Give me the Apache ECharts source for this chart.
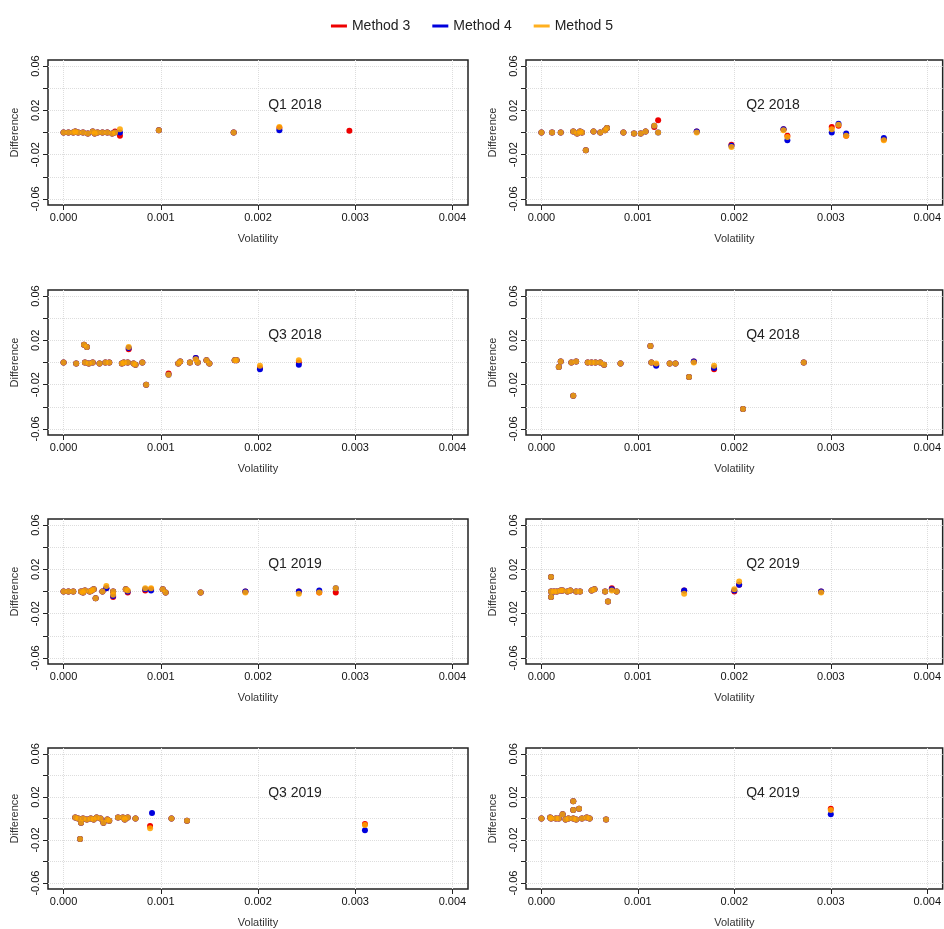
<!DOCTYPE html>
<html>
<head>
<meta charset="utf-8">
<script src="https://cdn.jsdelivr.net/npm/echarts@6/dist/echarts.min.js"></script>
<style>html,body{margin:0;padding:0;background:#fff}#main{width:944px;height:929px}</style>
</head>
<body>
<div id="main"></div>
<script>
// each row: [volatility, method 3, method 4, method 5]
var q1_2018 = [[0,0,0,0],[0.00005,0,0,0],[0.0001,0,0,0],[0.00012,0.001,0.001,0.001],[0.00015,0,0,0],[0.0002,0,0,0],
  [0.00025,-0.001,-0.001,-0.001],[0.0003,0.001,0.001,0.001],[0.00032,-0.001,-0.001,-0.001],[0.00035,0,0,0],[0.0004,0,0,0],
  [0.00045,0,0,0],[0.0005,-0.001,-0.001,-0.001],[0.00053,0.001,0,0],[0.00058,-0.003,0,0.003],[0.00098,0.002,0.002,0.002],
  [0.00175,0,0,0],[0.00222,0.004,0.002,0.005],[0.00294,0.0015,null,null]];
var q2_2018 = [[0,0,0,0],[0.00011,0,0,0],[0.0002,0,0,0],[0.00033,0.001,0.001,0.001],[0.00037,-0.001,-0.001,-0.001],
  [0.0004,0.001,0.001,0.001],[0.00042,0,0,0],[0.00046,-0.016,-0.016,-0.016],[0.00054,0.001,0.001,0.001],[0.00061,0,0,0],
  [0.00066,0.002,0.002,0.002],[0.00068,0.004,0.004,0.004],[0.00085,0,0,0],[0.00096,-0.001,-0.001,-0.001],
  [0.00103,-0.001,-0.001,-0.001],[0.00108,0.001,0.001,0.001],[0.00117,0.005,0.006,0.006],[0.00121,0.011,0,0],
  [0.00161,0.001,0.001,0],[0.00197,-0.011,-0.012,-0.013],[0.00251,0.003,0.003,0.002],[0.00255,-0.003,-0.007,-0.004],
  [0.00301,0.005,0,0.003],[0.00308,0.006,0.008,0.007],[0.00316,-0.003,-0.001,-0.003],[0.00355,-0.006,-0.005,-0.007]];
var q3_2018 = [[0,0,0,0],[0.00013,-0.001,-0.001,-0.001],[0.00021,0.016,0.016,0.016],[0.00024,0.014,0.014,0.014],
  [0.00022,0,0,0],[0.00026,-0.001,-0.001,-0.001],[0.0003,0,0,0],[0.00037,-0.001,-0.001,-0.001],[0.00043,0,0,0],
  [0.00047,0,0,0],[0.0006,-0.001,-0.001,-0.001],[0.00062,0,0,0],[0.00066,0,0,0],[0.00067,0.012,0.013,0.014],
  [0.00072,-0.001,-0.001,-0.001],[0.00074,-0.002,-0.002,-0.002],[0.00081,0,0,0],[0.00085,-0.02,-0.02,-0.02],
  [0.00108,-0.01,-0.011,-0.011],[0.00118,-0.001,-0.001,-0.001],[0.0012,0.001,0.001,0.001],[0.0013,0,0,0],
  [0.00136,0.004,0.004,0.003],[0.00138,0,0,0],[0.00147,0.002,0.002,0.002],[0.0015,-0.001,-0.001,-0.001],
  [0.00176,0.002,0.002,0.002],[0.00178,0.002,0.002,0.002],[0.00202,-0.005,-0.006,-0.003],[0.00242,0,-0.002,0.002]];
var q4_2018 = [[0.00018,-0.004,-0.004,-0.004],[0.0002,0.001,0.001,0.001],[0.00031,0,0,0],[0.00036,0.001,0.001,0.001],
  [0.00033,-0.03,-0.03,-0.03],[0.00048,0,0,0],[0.00052,0,0,0],[0.00056,0,0,0],[0.00061,0,0,0],[0.00065,-0.002,-0.002,-0.002],
  [0.00082,-0.001,-0.001,-0.001],[0.00113,0.015,0.015,0.015],[0.00114,0,0,0],[0.00119,-0.002,-0.003,-0.001],
  [0.00133,-0.001,-0.001,-0.001],[0.00139,-0.001,-0.001,-0.001],[0.00153,-0.013,-0.013,-0.013],[0.00158,0.001,0.001,0],
  [0.00179,-0.006,-0.005,-0.003],[0.00209,-0.042,-0.042,-0.042],[0.00272,0,0,0]];
var q1_2019 = [[0,0,0,0],[0.00005,0,0,0],[0.0001,0,0,0],[0.00018,0,0,0],[0.0002,-0.001,-0.001,-0.001],[0.00022,0.001,0.001,0.001],
  [0.00027,0,0,0],[0.00029,0.001,0.001,0.001],[0.00031,0.002,0.002,0.002],[0.00033,-0.006,-0.006,-0.006],[0.0004,0,0,0],
  [0.00044,0.003,0.003,0.005],[0.00051,-0.005,-0.004,-0.003],[0.00051,0,0,0],[0.00064,0.002,0.002,0.002],
  [0.00066,-0.001,0,0.001],[0.00084,0.001,0.002,0.003],[0.0009,0.002,0.001,0.003],[0.00102,0.002,0.002,0.002],
  [0.00105,-0.001,-0.001,-0.001],[0.00141,-0.001,-0.001,-0.001],[0.00187,0,0,-0.001],[0.00242,0,0,-0.002],
  [0.00263,-0.001,0.001,-0.001],[0.0028,-0.001,0.003,0.003]];
var q2_2019 = [[0.0001,0.013,0.013,0.013],[0.0001,-0.005,-0.005,-0.005],[0.0001,0,0,0],[0.00013,0,0,0],[0.00016,0,0,0],
  [0.0002,0.001,0.001,0.001],[0.00022,0.001,0.001,0.001],[0.00027,0,0,0],[0.0003,0.001,0.001,0.001],[0.00036,0,0,0],
  [0.0004,0,0,0],[0.00052,0.001,0.001,0.001],[0.00055,0.002,0.002,0.002],[0.00066,0,0,0],[0.00069,-0.009,-0.009,-0.009],
  [0.00073,0.003,0.002,0.001],[0.00078,0,0,0],[0.00148,0.001,0.001,-0.002],[0.002,0,0.001,0.002],
  [0.00205,0.006,0.006,0.009],[0.0029,0,0,-0.001]];
var q3_2019 = [[0.00012,0.001,0.001,0.001],[0.00015,0,0,0],[0.00017,-0.019,-0.019,-0.019],[0.00018,-0.004,-0.004,-0.004],
  [0.0002,0,0,0],[0.00024,-0.001,-0.001,-0.001],[0.00028,0,0,0],[0.00031,-0.001,-0.001,-0.001],[0.00034,0.001,0.001,0.001],
  [0.00038,0,0,0],[0.00041,-0.004,-0.004,-0.004],[0.00045,-0.001,-0.001,-0.001],[0.00047,-0.002,-0.002,-0.002],
  [0.00056,0.001,0.001,0.001],[0.00061,0.001,0.001,0.001],[0.00063,-0.001,-0.001,-0.001],[0.00066,0.001,0.001,0.001],
  [0.00074,0,0,0],[0.00089,-0.007,null,-0.009],[0.00091,null,0.005,null],[0.00111,0,0,0],[0.00127,-0.002,-0.002,-0.002],
  [0.0031,-0.005,-0.011,-0.006]];
var q4_2019 = [[0,0,0,0],[0.0001,0,0,0],[0.00009,0.001,0.001,0.001],[0.00015,0,0,0],[0.00018,0,0,0],[0.00022,0.004,0.004,0.004],
  [0.00025,-0.001,-0.001,-0.001],[0.00028,0,0,0],[0.00033,0.016,0.016,0.016],[0.00033,0.008,0.008,0.008],[0.00033,0,0,0],
  [0.00036,-0.001,-0.001,-0.001],[0.00039,0.009,0.009,0.009],[0.00042,0,0,0],[0.00047,0.001,0.001,0.001],[0.0005,0,0,0],
  [0.00067,-0.001,-0.001,-0.001],[0.003,0.009,0.004,0.008]];

var panels = [q1_2018, q2_2018, q3_2018, q4_2018, q1_2019, q2_2019, q3_2019, q4_2019];
var titles = ['Q1 2018', 'Q2 2018', 'Q3 2018', 'Q4 2018', 'Q1 2019', 'Q2 2019', 'Q3 2019', 'Q4 2019'];
var methods = ['Method 3', 'Method 4', 'Method 5'];
var colors = ['#ee0000', '#0000dd', '#ffa500'];
var xTicks = [0, 0.001, 0.002, 0.003, 0.004];
var yTicks = [-0.06, -0.04, -0.02, 0, 0.02, 0.04, 0.06];
var yLabels = [-0.06, -0.02, 0.02, 0.06];

var myChart = echarts.init(document.getElementById('main'));
var tops = [60, 290, 519, 748];
var grids = [], xAxes = [], yAxes = [], series = [], title = [];

panels.forEach(function (rows, i) {
    var col = i % 2, row = Math.floor(i / 2);
    var left = col === 0 ? 48 : 526;
    grids.push({left: left, top: tops[row], width: 420, height: 145, show: true,
        borderColor: '#222', borderWidth: 1.5, backgroundColor: 'transparent'});
    title.push({text: titles[i], left: left + 242, top: tops[row] + 33, textAlign: 'center',
        textStyle: {fontSize: 14, fontWeight: 'normal', color: '#222', fontFamily: 'Liberation Sans'}});
    xAxes.push({type: 'value', gridIndex: i, min: -0.00016, max: 0.00416,
        name: 'Volatility', nameLocation: 'middle', nameGap: 28,
        nameTextStyle: {fontSize: 11, color: '#333'},
        axisLine: {show: false, onZero: false},
        axisTick: {show: true, customValues: xTicks, length: 5, lineStyle: {color: '#222'}},
        axisLabel: {customValues: xTicks, fontSize: 11, color: '#111', margin: 7,
            formatter: function (v) { return v.toFixed(3); }},
        splitLine: {show: true, lineStyle: {color: '#ddd', type: 'dotted'}}});
    yAxes.push({type: 'value', gridIndex: i, min: -0.0655, max: 0.0655,
        name: 'Difference', nameLocation: 'middle', nameGap: 28, nameRotate: 90,
        nameTextStyle: {fontSize: 11, color: '#333'},
        axisLine: {show: false, onZero: false},
        axisTick: {show: true, customValues: yTicks, length: 5, lineStyle: {color: '#222'}},
        axisLabel: {customValues: yLabels, rotate: 90, fontSize: 11, color: '#111', margin: 7,
            formatter: function (v) { return v.toFixed(2); }},
        splitLine: {show: true, lineStyle: {color: '#ddd', type: 'dotted'}}});
    methods.forEach(function (m, k) {
        series.push({name: m, type: 'scatter', xAxisIndex: i, yAxisIndex: i, symbolSize: 6,
            itemStyle: {color: colors[k], opacity: k === 2 ? 0.88 : 1},
            data: rows.filter(function (r) { return r[k + 1] !== null; })
                      .map(function (r) { return [r[0], r[k + 1]]; })});
    });
});

myChart.setOption({
    animation: false,
    textStyle: {fontFamily: 'Liberation Sans'},
    title: title,
    legend: {top: 14, left: 'center', itemWidth: 16, itemHeight: 3, itemGap: 22,
        textStyle: {fontSize: 14, color: '#222'},
        data: methods.map(function (m, k) { return {name: m, icon: 'rect', itemStyle: {color: colors[k]}}; })},
    grid: grids,
    xAxis: xAxes,
    yAxis: yAxes,
    series: series
});
</script>
</body>
</html>
